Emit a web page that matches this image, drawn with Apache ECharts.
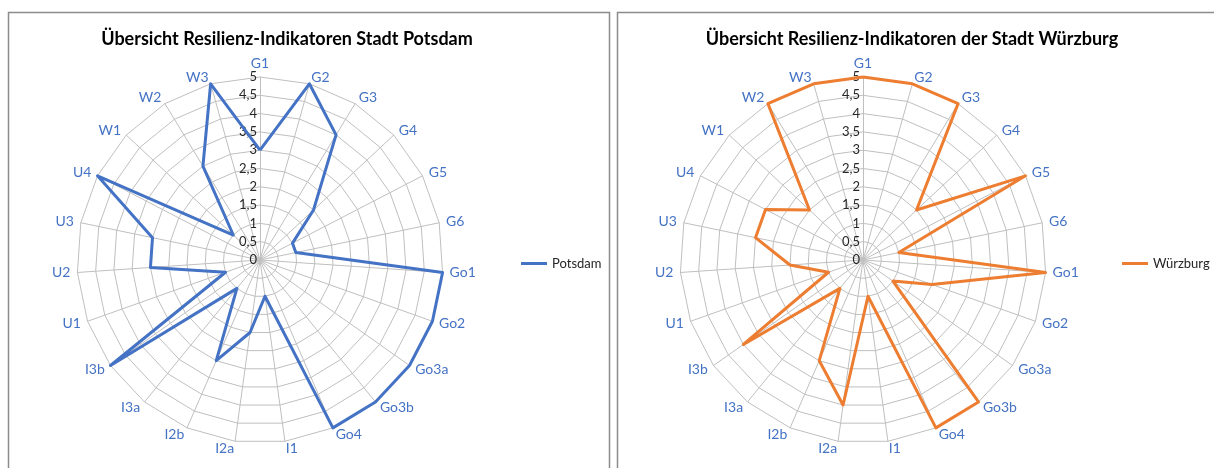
<!DOCTYPE html>
<html>
<head>
<meta charset="utf-8">
<script src="https://cdn.jsdelivr.net/npm/echarts@6/dist/echarts.min.js"></script>
<style>
  html, body { margin: 0; padding: 0; background: #fff; }
  #main { width: 1214px; height: 468px; }
</style>
</head>
<body>
<div id="main"></div>
<script>
// Radar-Diagramme Resilienz-Indikatoren

var categories = ['G1', 'G2', 'G3', 'G4', 'G5', 'G6', 'Go1', 'Go2', 'Go3a', 'Go3b', 'Go4',
    'I1', 'I2a', 'I2b', 'I3a', 'I3b', 'U1', 'U2', 'U3', 'U4', 'W1', 'W2', 'W3'];
var potsdam = [3, 5, 4, 2, 1, 1, 5, 5, 5, 5, 5, 1, 2, 3, 1, 5, 1, 3, 3, 5, 1, 3, 5];
var wuerzburg = [5, 5, 5, 2, 5, 1, 5, 2, 1, 5, 5, 1, 4, 3, 1, 4, 1, 2, 3, 3, 2, 5, 5];
var titles = ['Übersicht Resilienz-Indikatoren Stadt Potsdam',
    'Übersicht Resilienz-Indikatoren der Stadt Würzburg'];
var seriesNames = ['Potsdam', 'Würzburg'];

var font = 'Lato';

// echarts legt die Achsen gegen den Uhrzeigersinn an -> Reihenfolge umdrehen
function cw(arr) {
    return [arr[0]].concat(arr.slice(1).reverse());
}

function indicators() {
    return cw(categories).map(function (c, i) {
        var ind = { name: c, min: 0, max: 5 };
        if (i === 0) ind.axisLabel = { show: true };
        return ind;
    });
}

function radarCfg(cx) {
    return {
        center: [cx, 260],
        radius: 183,
        startAngle: 90,
        shape: 'polygon',
        splitNumber: 10,
        indicator: indicators(),
        axisName: {
            color: '#4472C4',
            fontFamily: font,
            fontSize: 14
        },
        nameGap: 7,
        axisLine: { lineStyle: { color: '#BFBFBF', width: 1 } },
        splitLine: { lineStyle: { color: '#BFBFBF', width: 1 } },
        splitArea: { show: false },
        axisTick: { show: false },
        axisLabel: {
            show: false,
            color: '#262626',
            fontFamily: font,
            fontSize: 13,
            margin: 3,
            formatter: function (v) { return String(v).replace('.', ','); }
        }
    };
}

var dom = document.getElementById('main');
var myChart = echarts.init(dom, null, { renderer: 'canvas' });

var option = {
    animation: false,
    title: [{
        text: titles[0],
        left: 282, top: 25, textAlign: 'center',
        textStyle: { fontFamily: font, fontSize: 18, fontWeight: 'bold', color: '#000' }
    }, {
        text: titles[1],
        left: 907, top: 25, textAlign: 'center',
        textStyle: { fontFamily: font, fontSize: 18, fontWeight: 'bold', color: '#000' }
    }],
    legend: [{
        data: [seriesNames[0]],
        left: 516, top: 252,
        icon: 'rect', itemWidth: 26, itemHeight: 3,
        textStyle: { fontFamily: font, fontSize: 13, color: '#262626' }
    }, {
        data: [seriesNames[1]],
        left: 1117, top: 252,
        icon: 'rect', itemWidth: 26, itemHeight: 3,
        textStyle: { fontFamily: font, fontSize: 13, color: '#262626' }
    }],
    graphic: [{
        type: 'rect',
        shape: { x: 8.5, y: 12.5, width: 601, height: 480 },
        style: { fill: 'none', stroke: '#8C8C8C', lineWidth: 1.5 }
    }, {
        type: 'rect',
        shape: { x: 617.5, y: 12.5, width: 620, height: 480 },
        style: { fill: 'none', stroke: '#8C8C8C', lineWidth: 1.5 }
    }],
    color: ['#4472C4', '#ED7D31'],
    radar: [radarCfg(260), radarCfg(863)],
    series: [{
        name: seriesNames[0],
        type: 'radar',
        radarIndex: 0,
        symbol: 'none',
        lineStyle: { width: 3, color: '#4472C4' },
        itemStyle: { color: '#4472C4' },
        data: [{ name: seriesNames[0], value: cw(potsdam) }]
    }, {
        name: seriesNames[1],
        type: 'radar',
        radarIndex: 1,
        symbol: 'none',
        lineStyle: { width: 3, color: '#ED7D31' },
        itemStyle: { color: '#ED7D31' },
        data: [{ name: seriesNames[1], value: cw(wuerzburg) }]
    }]
};
myChart.setOption(option);
</script>
</body>
</html>
